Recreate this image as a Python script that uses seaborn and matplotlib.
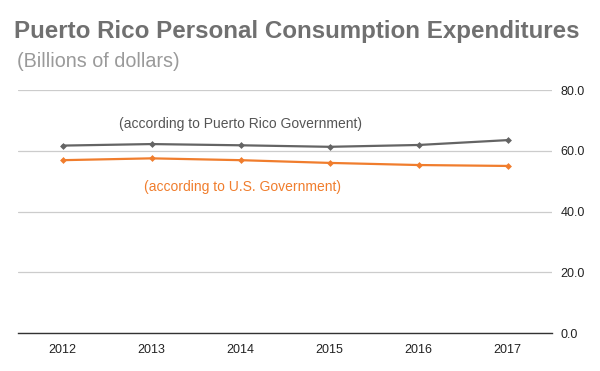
import matplotlib
matplotlib.use("Agg")
import matplotlib.pyplot as plt
import seaborn as sns
import pandas as pd

years = ["2012", "2013", "2014", "2015", "2016", "2017"]
pr_gov = [61.7, 62.2, 61.8, 61.3, 61.9, 63.5]
us_gov = [56.9, 57.5, 56.9, 56.0, 55.3, 55.0]
y_ticks = [0, 20, 40, 60, 80]

sns.set_theme(style="white")
plt.rcParams['font.family'] = ['Liberation Sans', 'DejaVu Sans']

df = pd.DataFrame({
    "year": list(range(len(years))) * 2,
    "value": pr_gov + us_gov,
    "series": ["PR"] * len(years) + ["US"] * len(years),
})

fig = plt.figure(figsize=(6.0, 3.71), dpi=100)
ax = fig.add_axes([0.030, 0.1024, 0.890, 0.655])

sns.lineplot(data=df, x="year", y="value", hue="series",
             palette={"PR": "#646464", "US": "#f07d2d"},
             marker="D", markersize=3.5, markeredgewidth=0, linewidth=1.6,
             legend=False, ax=ax)

ax.set_xlim(-0.5, len(years) - 0.5)
ax.set_ylim(0, 80)
ax.set_xticks(range(len(years)))
ax.set_xticklabels(years)
ax.set_yticks(y_ticks)
ax.set_yticklabels([f"{v:.1f}" for v in y_ticks])
ax.yaxis.tick_right()
ax.tick_params(axis="both", length=0, labelsize=9, colors="#222222")
ax.tick_params(axis="y", pad=6)
ax.tick_params(axis="x", pad=8)
ax.set_xlabel("")
ax.set_ylabel("")
for s in ["top", "left", "right"]:
    ax.spines[s].set_visible(False)
ax.spines["bottom"].set_color("#333333")
ax.spines["bottom"].set_linewidth(1.0)
ax.grid(axis="y", color="#cccccc", linewidth=0.9)
ax.set_axisbelow(True)

ax.text(2.0, 68.8, "(according to Puerto Rico Government)", ha="center", va="center",
        fontsize=10, color="#555555")
ax.text(2.02, 48.2, "(according to U.S. Government)", ha="center", va="center",
        fontsize=10, color="#f07d2d")

fig.text(0.023, 0.914, "Puerto Rico Personal Consumption Expenditures", ha="left", va="center",
         fontsize=17.4, fontweight="bold", color="#707070")
fig.text(0.028, 0.833, "(Billions of dollars)", ha="left", va="center",
         fontsize=14.2, color="#9a9a9a")

fig.savefig("out.png", dpi=100)
